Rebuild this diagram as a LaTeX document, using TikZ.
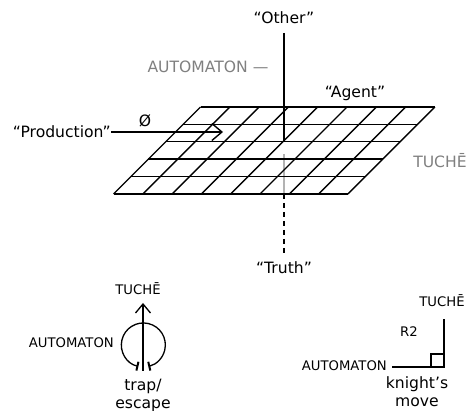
\documentclass[tikz,border=0pt]{standalone}
\usepackage{fontspec}
\setmainfont{DejaVu Sans}
\usepackage{tikz}
\usetikzlibrary{calc,  positioning,  arrows.meta}
\definecolor{labelgray}{RGB}{128,128,128}

\begin{document}
\begin{tikzpicture}[x=1pt, y=-1pt,
    lbl/.style={inner sep=0pt, font=\fontsize{15.6}{18}\selectfont},
    smalllbl/.style={inner sep=0pt, font=\fontsize{13.2}{15}\selectfont},
    gridline/.style={line width=1.4pt}]
          \useasboundingbox (0, 0) rectangle (467, 411);
          % axis through the plane
          \node[lbl] (other) at (284, 18) {“Other”};
          \node[lbl] (truth) at (284, 268) {“Truth”};
          \coordinate (axtop) at (284, 33);
          \coordinate (axmid) at (284, 142);
          \coordinate (axhid) at (284, 154);
          \coordinate (axbot) at (284, 194);
          \coordinate (axend) at (284, 254);
          \draw[line width=1.6pt,  labelgray!60]  (axhid) -- (axbot);
          % the plane
          \foreach \i in {0, ..., 5}
            \draw[gridline] (113.5+17.4*\i, 194-17.4*\i) -- (347.9+17.4*\i, 194-17.4*\i);
          \foreach \j in {0, ..., 8}
            \draw[gridline] (113.5+29.3*\j, 194) -- (200.5+29.3*\j, 107);
          \draw[line width=2pt]  (axtop) -- (axmid);
          \draw[line width=1.8pt,  dash pattern=on 5pt off 4pt]  (axbot) -- (axend);
          \node[lbl,  text=labelgray] (autotop) at (208, 67) {AUTOMATON —};
          \node[lbl] (agent) at (355, 93) {“Agent”};
          \node[lbl,  text=labelgray] (tucheright) at (440, 161) {TUCHĒ};
          \node[lbl,  anchor=east] (prod) at (111, 132) {“Production”};
          \node[lbl] (emptyset) at (145, 121) {Ø};
          \coordinate (prodtip) at (223, 132);
          \draw[line width=1.4pt,  -{Straight Barb[length=10pt,  width=17pt]}]  (prod.east) -- (prodtip);
          % trap / escape
          \node[smalllbl] (tucheloop) at (138, 289) {TUCHĒ};
          \node[smalllbl,  anchor=east] (autoloop) at (114, 343) {AUTOMATON};
          \node[lbl,  align=center] (trap) at (143, 395) {trap/\\escape};
          \coordinate (loopfoot) at (143, 371);
          \coordinate (loophead) at (143, 303);
          \draw[line width=1.3pt,  -{Straight Barb[length=9pt,  width=15pt]}]  (loopfoot) -- (loophead);
          \draw[line width=1.3pt,  {Bar[width=9pt,  line width=2pt]}-{Bar[width=9pt,  line width=2pt]}]
            (138.4, 366.4) arc[start angle=103,  end angle=437,  radius=22];
          % knight's move
          \node[smalllbl] (tucheknight) at (442, 301) {TUCHĒ};
          \node[smalllbl] (rtwo) at (409, 332) {R2};
          \node[smalllbl,  anchor=east] (autoknight) at (387, 366) {AUTOMATON};
          \node[lbl,  align=center] (knight) at (417, 392) {knight’s\\move};
          \coordinate (kcorner) at (444, 367);
          \coordinate (kup) at (444, 319);
          \draw[line width=2pt]  ([xshift=5pt]autoknight.east |- kcorner) -- (kcorner) -- (kup);
          \draw[line width=1.3pt]  ($(kcorner)+(-13, 0)$) |- ($(kcorner)+(0, -13)$);
      \end{tikzpicture}
\end{document}
